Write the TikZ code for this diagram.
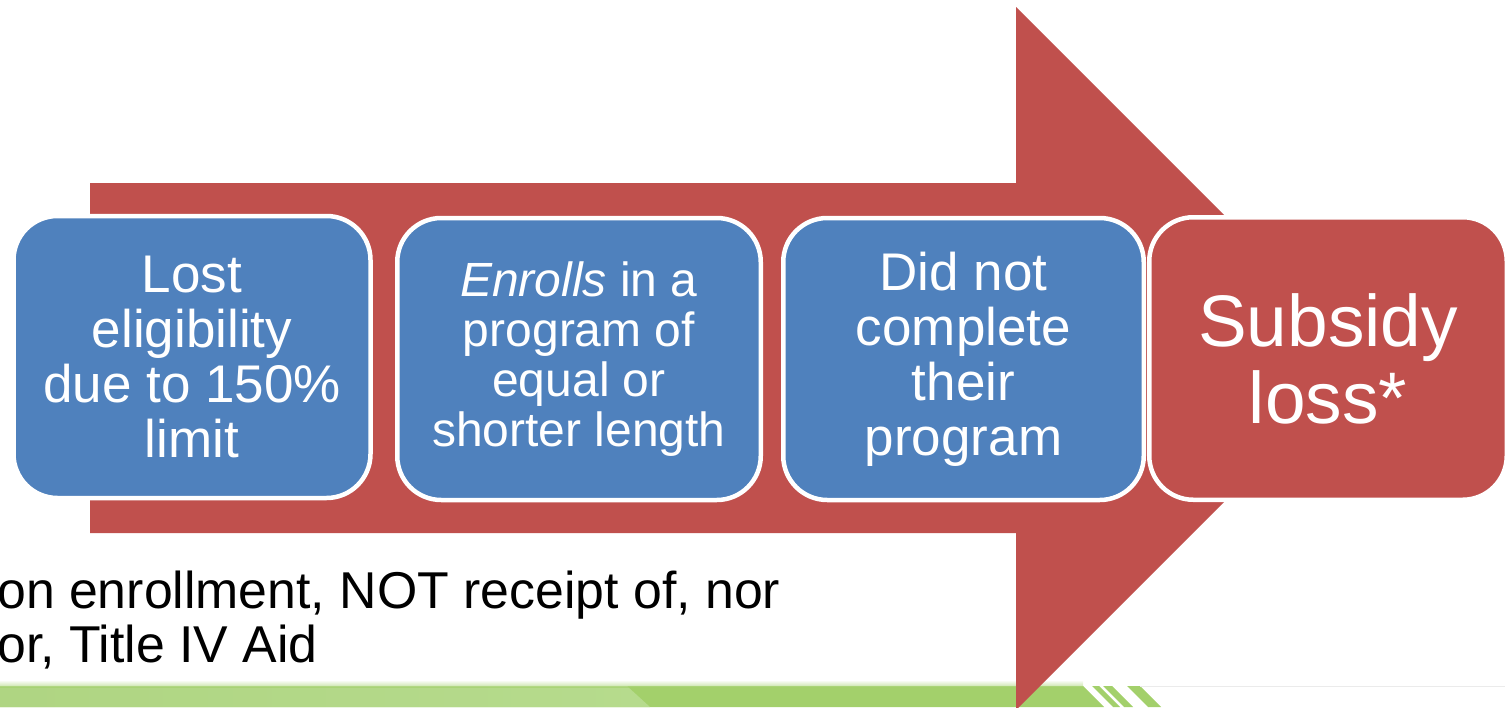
\documentclass[tikz,border=0pt]{standalone}
\usepackage{fontspec}
\setmainfont{Liberation Sans}
\definecolor{arrowred}{HTML}{C0504D}
\definecolor{boxblue}{HTML}{4F81BD}
\definecolor{greenA}{HTML}{AFD582}
\definecolor{greenL}{HTML}{B6DB8D}
\definecolor{greenB}{HTML}{A3D06B}
\definecolor{rulegray}{HTML}{EBEBEB}
\begin{document}
\begin{tikzpicture}[x=1pt,y=-1pt,
  stepbox/.style={rounded corners=44pt, draw=white, line width=4.5pt,
    minimum height=282pt, align=center, text=white, inner sep=0pt},
  bluebox/.style={stepbox, fill=boxblue},
  redbox/.style={stepbox, fill=arrowred},
  mainfont/.style={font=\fontsize{53}{55}\selectfont},
  smallfont/.style={font=\fontsize{48}{50}\selectfont},
  bigfont/.style={font=\fontsize{73}{77}\selectfont},
  notetext/.style={anchor=base west, inner sep=0pt, text=black, font=\fontsize{51.8}{54}\selectfont},
]
\useasboundingbox (0,0) rectangle (1505,707);
\clip (0,0) rectangle (1505,707);

% green footer band
\fill[greenB] (0,686) -- (1083,686) -- (1104,707) -- (0,707) -- cycle;
\shade[left color=greenA, right color=greenL] (0,686) -- (627,686) -- (650,707) -- (0,707) -- cycle;
\fill[greenB] (1092,686) -- (1099,686) -- (1120,707) -- (1113,707) -- cycle;
\fill[greenB] (1103,686) -- (1112,686) -- (1133,707) -- (1124,707) -- cycle;
\fill[greenB] (1127,686) -- (1140,686) -- (1161,707) -- (1148,707) -- cycle;
\shade[top color=white, bottom color=greenB, opacity=0.6] (0,680) rectangle (1083,687);
\draw[rulegray, line width=1.5pt] (1140,686.5) -- (1505,686.5);

% note text
\node[notetext] (note1) at (-3,608) {on enrollment, NOT receipt of, nor};
\node[notetext] (note2) at (-3,662) {or, Title IV Aid};

% big arrow
\fill[arrowred] (90,183) -- (1016,183) -- (1016,7) -- (1367.5,358.5)
  -- (1016,710) -- (1016,533) -- (90,533) -- cycle;

% boxes
\node[bluebox, mainfont, minimum width=357pt] (b1) at (192,357)
  {Lost\\eligibility\\due to 150\%\\limit};
\node[bluebox, smallfont, minimum width=363.5pt] (b2) at (579,359)
  {\textit{Enrolls} in a\\program of\\equal or\\shorter length};
\node[bluebox, mainfont, minimum width=360.5pt] (b3) at (963.5,359)
  {Did not\\complete\\their\\program};
\node[redbox, bigfont, minimum width=357.5pt, minimum height=282.5pt] (b4) at (1328,358.5)
  {Subsidy\\loss*};
\end{tikzpicture}
\end{document}
